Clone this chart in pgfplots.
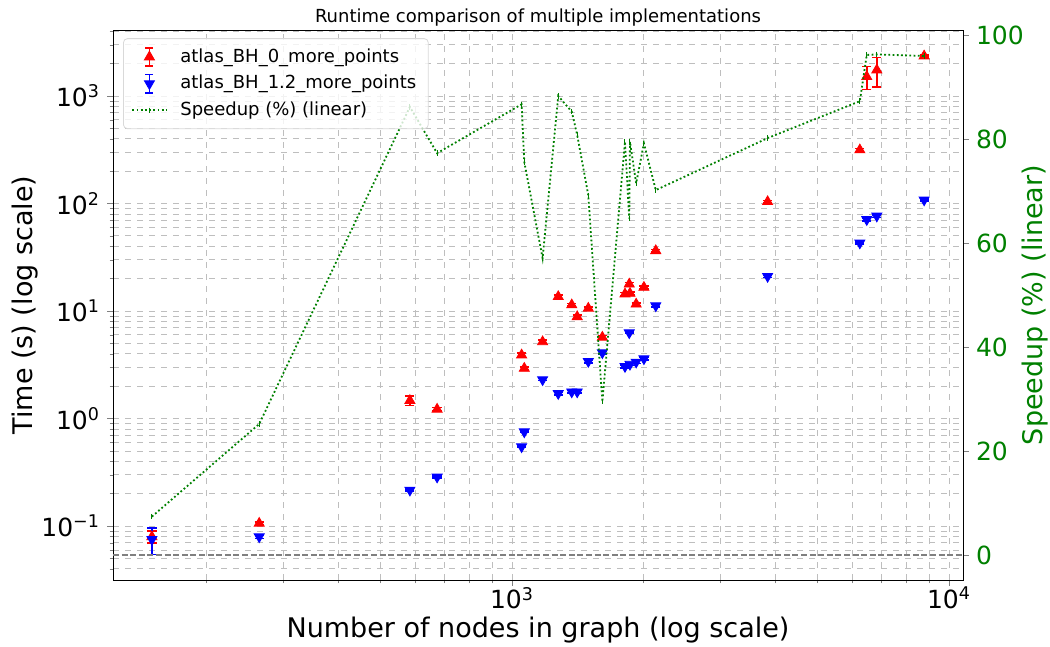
\documentclass[border=0pt]{standalone}
\usepackage{pgfplots}
\pgfplotsset{compat=1.18}
\usepackage{fontspec}
\setmainfont{DejaVu Sans}

\definecolor{mplgreen}{RGB}{0,128,0}
\definecolor{gridgray}{RGB}{190,190,190}

% x, time, error
\pgfplotstableread{
x     y       e
150   0.0795  0.010
264   0.106   0.003
584   1.47    0.15
674   1.22    0.05
1052  3.9     0.15
1067  2.93    0.1
1175  5.17    0.2
1276  13.6    0.5
1370  11.4    0.3
1410  8.85    0.3
1495  10.6    0.3
1610  5.7     0.2
1814  14.4    0.5
1855  17.8    0.6
1862  14.6    0.5
1924  11.6    0.3
2004  16.6    0.5
2133  36.4    1
3846  104     3
6251  315     10
6483  1513    360
6836  1745    530
8771  2355    60
}\redtab

\pgfplotstableread{
x     y       e
150   0.0751  0.021
264   0.0795  0.003
584   0.216   0.005
674   0.286   0.005
1052  0.547   0.01
1067  0.753   0.01
1175  2.3     0.05
1276  1.71    0.05
1370  1.77    0.05
1410  1.77    0.05
1495  3.4     0.1
1610  4.1     0.1
1814  3.05    0.1
1855  6.28    0.1
1862  3.2     0.1
1924  3.35    0.1
2004  3.6     0.1
2133  11.2    0.3
3846  21      0.5
6251  43      1
6483  71      2
6836  76.5    2
8771  108     2
}\bluetab

\pgfplotstableread{
x     s
150   7.4
264   25.2
584   86.2
674   77.3
1052  86.7
1067  75.6
1175  57.1
1276  88.3
1370  85.3
1410  80.8
1495  69.2
1610  29.5
1814  79.5
1855  64.7
1862  79.5
1924  71.5
2004  79.2
2133  70.2
3846  80.2
6251  87.3
6483  96.2
6836  96.3
8771  96.0
}\speeduptab

\begin{document}
\begin{tikzpicture}
\path[use as bounding box] (-56.5pt,-33.5pt) rectangle (468.5pt,290pt);

\begin{axis}[
  at={(0,0)}, anchor=south west,
  scale only axis, width=425pt, height=275pt,
  xmode=log, xmin=122.2, xmax=10765,
  ymode=log, ymin=0.0315, ymax=4111,
  tick align=outside,
  major tick length=3pt, minor tick length=1.7pt,
  ticklabel style={font=\fontsize{12.5}{14}\selectfont},
  xticklabel style={yshift=3pt},
  label style={font=\fontsize{13.5}{16}\selectfont},
  xtick={1000,10000},
  xticklabels={10\textsuperscript{3},10\textsuperscript{4}},
  minor xtick={200,300,400,500,600,700,800,900,2000,3000,4000,5000,6000,7000,8000,9000},
  ytick={0.1,1,10,100,1000},
  yticklabels={10\textsuperscript{−1},10\textsuperscript{0},10\textsuperscript{1},10\textsuperscript{2},10\textsuperscript{3}},
  minor ytick={0.04,0.05,0.06,0.07,0.08,0.09,0.2,0.3,0.4,0.5,0.6,0.7,0.8,0.9,2,3,4,5,6,7,8,9,20,30,40,50,60,70,80,90,200,300,400,500,600,700,800,900,2000,3000,4000},
  xtick pos=bottom, ytick pos=left,
  grid=both,
  major grid style={dashed, gridgray, line width=0.4pt},
  minor grid style={dashed, gridgray, line width=0.4pt},
  every axis title shift=0pt,
  title={Runtime comparison of multiple implementations},
  title style={font=\fontsize{9}{11}\selectfont, at={(0.5,1.022)}, anchor=center},
  xlabel={Number of nodes in graph (log scale)},
  xlabel style={at={(0.5,-0.091)}, anchor=center},
  ylabel={Time (s) (log scale)},
  ylabel style={at={(-0.1035,0.5)}, anchor=center},
]
\addplot[only marks, red, mark=triangle*, mark size=2.9pt,
  error bars/.cd, y dir=both, y explicit,
  error bar style={red, line width=0.75pt},
  error mark options={rotate=90, red, mark size=2.3pt, line width=0.75pt}]
  table[x=x, y=y, y error=e] {\redtab};
\addplot[only marks, blue, mark=triangle*, mark size=2.9pt, mark options={rotate=180},
  error bars/.cd, y dir=both, y explicit,
  error bar style={blue, line width=0.75pt},
  error mark options={rotate=90, blue, mark size=2.3pt, line width=0.75pt}]
  table[x=x, y=y, y error=e] {\bluetab};
\end{axis}

\begin{axis}[
  at={(0,0)}, anchor=south west,
  scale only axis, width=425pt, height=275pt,
  xmode=log, xmin=122.2, xmax=10765,
  ymin=-4.8, ymax=101,
  tick align=outside,
  major tick length=3pt,
  ticklabel style={font=\fontsize{12.5}{14}\selectfont},
  label style={font=\fontsize{13.5}{16}\selectfont},
  axis x line=none,
  axis y line*=right,
  ytick={0,20,40,60,80,100},
  yticklabels={0,20,40,60,80,100},
  yticklabel style={mplgreen},
  ylabel={Speedup (\%) (linear)},
  ylabel style={mplgreen, at={(1.0847,0.5)}, anchor=center},
  legend style={at={(0.0118,0.985)}, anchor=north west,
    draw=black!15, rounded corners=2pt, fill=white, fill opacity=0.8, text opacity=1,
    font=\fontsize{9}{11}\selectfont, row sep=1pt, inner xsep=4pt, inner ysep=3pt,
    /tikz/every odd column/.append style={column sep=4.5pt}},
  legend cell align=left,
]
\addlegendimage{red, mark=triangle*, mark size=2.9pt,
  legend image code/.code={
    \draw[red, line width=0.75pt, mark=none] (0.3cm,-0.16cm) -- (0.3cm,0.16cm);
    \draw[red, line width=0.75pt, mark=none] (0.23cm,-0.16cm) -- (0.37cm,-0.16cm);
    \draw[red, line width=0.75pt, mark=none] (0.23cm,0.16cm) -- (0.37cm,0.16cm);
    \draw[red, fill opacity=1] plot coordinates {(0.3cm,0cm)};
  }}
\addlegendentry{atlas\_BH\_0\_more\_points}
\addlegendimage{blue, mark=triangle*, mark size=2.9pt, mark options={rotate=180},
  legend image code/.code={
    \draw[blue, line width=0.75pt, mark=none] (0.3cm,-0.16cm) -- (0.3cm,0.16cm);
    \draw[blue, line width=0.75pt, mark=none] (0.23cm,-0.16cm) -- (0.37cm,-0.16cm);
    \draw[blue, line width=0.75pt, mark=none] (0.23cm,0.16cm) -- (0.37cm,0.16cm);
    \draw[blue, fill opacity=1] plot coordinates {(0.3cm,0cm)};
  }}
\addlegendentry{atlas\_BH\_1.2\_more\_points}
\addplot[gray, line width=0.75pt, dash pattern=on 3pt off 1.3pt, forget plot]
  coordinates {(122.2,0) (10765,0)};
\addplot[mplgreen, line width=0.9pt, dash pattern=on 0.9pt off 1.2pt,
  mark=|, mark size=1.4pt, mark options={solid, line width=0.5pt}]
  table[x=x, y=s] {\speeduptab};
\addlegendentry{Speedup (\%) (linear)}
\end{axis}
\end{tikzpicture}
\end{document}
